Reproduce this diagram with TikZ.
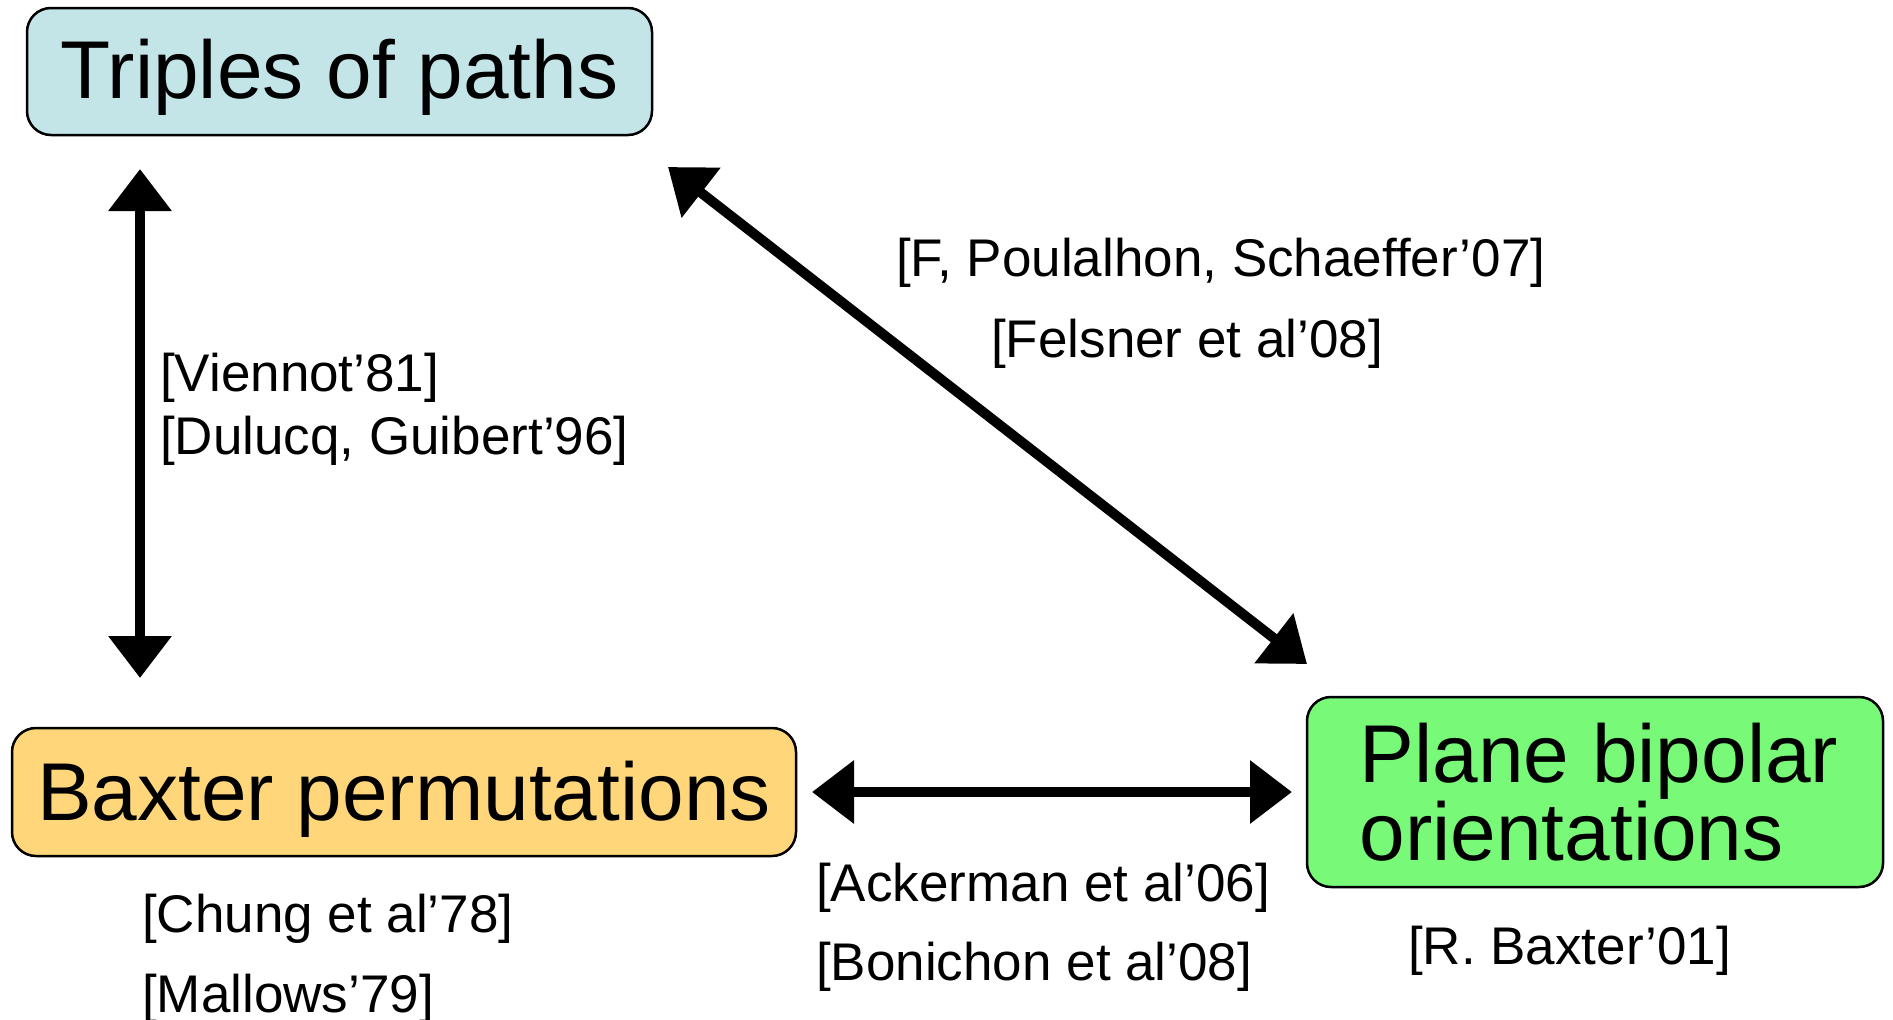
\documentclass[tikz,border=0pt]{standalone}
\usepackage{fontspec}
\setmainfont{Liberation Sans}
\usetikzlibrary{arrows.meta}
\definecolor{pathsfill}{RGB}{196,229,232}
\definecolor{baxterfill}{RGB}{255,214,122}
\definecolor{bipolarfill}{RGB}{120,250,120}
\begin{document}
\begin{tikzpicture}[x=1pt,y=-1pt,
  topic/.style={draw=black, line width=2.5pt, rounded corners=24pt, inner sep=0pt,
    font=\fontsize{82}{78}\selectfont},
  ref/.style={inner sep=0pt, anchor=base west, font=\fontsize{53}{64}\selectfont},
  link/.style={line width=10pt,
    {Triangle[length=42pt,width=61pt]}-{Triangle[length=42pt,width=61pt]}},
]
\useasboundingbox (0,0) rectangle (1893,1020);

% the three families of objects
\node[topic, fill=pathsfill, minimum width=625pt, minimum height=127pt,
      text height=70pt, text depth=17pt] (paths) at (339.5,71.5) {Triples of paths};
\node[topic, fill=baxterfill, minimum width=784pt, minimum height=128pt,
      text height=72pt, text depth=16pt] (baxter) at (404,792) {Baxter permutations};
\node[topic, fill=bipolarfill, minimum width=576pt, minimum height=190pt,
      align=left] (bipolar) at (1595,792) {\hspace*{8pt}Plane bipolar\\\hspace*{8pt}orientations};

% arrow end points
\coordinate (pathsDown) at (140,169);
\coordinate (baxterUp) at (140,678);
\coordinate (pathsCorner) at (668,167);
\coordinate (bipolarCorner) at (1307,664);
\coordinate (baxterRight) at (812,792);
\coordinate (bipolarLeft) at (1292,792);

% bijections
\draw[link] (pathsDown) -- (baxterUp);
\draw[link] (pathsCorner) -- (bipolarCorner);
\draw[link] (baxterRight) -- (bipolarLeft);

% references
\node[ref] (viennot) at (160,391) {[Viennot’81]};
\node[ref] (dulucq) at (160,454) {[Dulucq, Guibert’96]};
\node[ref] (fps) at (896,276) {[F, Poulalhon, Schaeffer’07]};
\node[ref] (felsner) at (991,357) {[Felsner et al’08]};
\node[ref] (chung) at (142,932) {[Chung et al’78]};
\node[ref] (mallows) at (142,1012) {[Mallows’79]};
\node[ref] (ackerman) at (816,901) {[Ackerman et al’06]};
\node[ref] (bonichon) at (816,980) {[Bonichon et al’08]};
\node[ref] (rbaxter) at (1408,964) {[R. Baxter’01]};
\end{tikzpicture}
\end{document}
